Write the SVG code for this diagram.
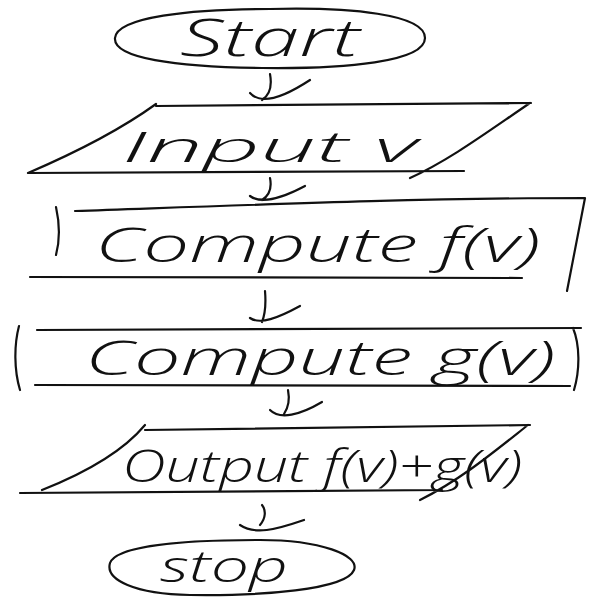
<svg xmlns="http://www.w3.org/2000/svg" width="600" height="600" viewBox="0 0 600 600">
<style>
.s{fill:none;stroke:#111;stroke-width:2.2;stroke-linecap:round;stroke-linejoin:round}
.t{font-family:"Open Sans","Lato","DejaVu Sans",sans-serif;font-style:italic;font-weight:300;fill:#111}
</style>
<rect width="600" height="600" fill="#fff"/>
<g id="start">
<path class="s" d="M270,9 C350,7 425,14 425,38 C425,62 345,69 262,68 C175,67 113,58 115,38 C117,17 190,9 270,9"/>
<text class="t" x="180" y="56" font-size="52" textLength="180" lengthAdjust="spacingAndGlyphs">Start</text>
</g>
<g id="input">
<path class="s" d="M156,106 L531,103 M156,104 C120,130 70,155 28,173 L464,171 M530,103 C490,130 450,160 410,178"/>
<text class="t" x="122" y="162" font-size="42" textLength="295" lengthAdjust="spacingAndGlyphs">Input v</text>
</g>
<g id="computef">
<path class="s" d="M75,211 C250,205 420,198 585,198 L567,291 M30,277 L522,278 M56,207 C60,225 60,240 56,255"/>
<text class="t" x="95" y="262" font-size="48" textLength="445" lengthAdjust="spacingAndGlyphs">Compute f(v)</text>
</g>
<g id="computeg">
<path class="s" d="M37,330 L581,328 M35,385 L570,386 M19,326 C14,345 14,370 20,390 M573,328 C580,345 580,370 574,390"/>
<text class="t" x="85" y="375" font-size="48" textLength="470" lengthAdjust="spacingAndGlyphs">Compute g(v)</text>
</g>
<g id="output">
<path class="s" d="M145,430 L530,425 M145,425 C120,455 80,475 42,490 M20,493 L442,490 M528,425 C490,455 460,480 420,500"/>
<text class="t" x="122" y="482" font-size="44" textLength="400" lengthAdjust="spacingAndGlyphs">Output f(v)+g(v)</text>
</g>
<g id="stop">
<path class="s" d="M260,540 C320,540 360,555 354,570 C346,590 260,596 190,595 C135,594 105,580 110,563 C116,546 180,540 260,540"/>
<text class="t" x="160" y="582" font-size="44" textLength="128" lengthAdjust="spacingAndGlyphs">stop</text>
</g>
<g id="connectors">
<path class="s" d="M270,74 C272,85 270,95 262,100 M250,93 C258,102 275,103 310,80"/>
<path class="s" d="M270,178 C272,188 270,195 262,200 M250,196 C258,202 275,202 305,186"/>
<path class="s" d="M265,291 C266,303 266,312 262,322 M250,318 C260,325 278,318 300,306"/>
<path class="s" d="M288,390 C290,400 288,408 284,414 M270,410 C280,420 300,415 322,402"/>
<path class="s" d="M262,505 C266,510 266,518 260,525 M240,525 C255,535 275,530 304,520"/>
</g>
</svg>
